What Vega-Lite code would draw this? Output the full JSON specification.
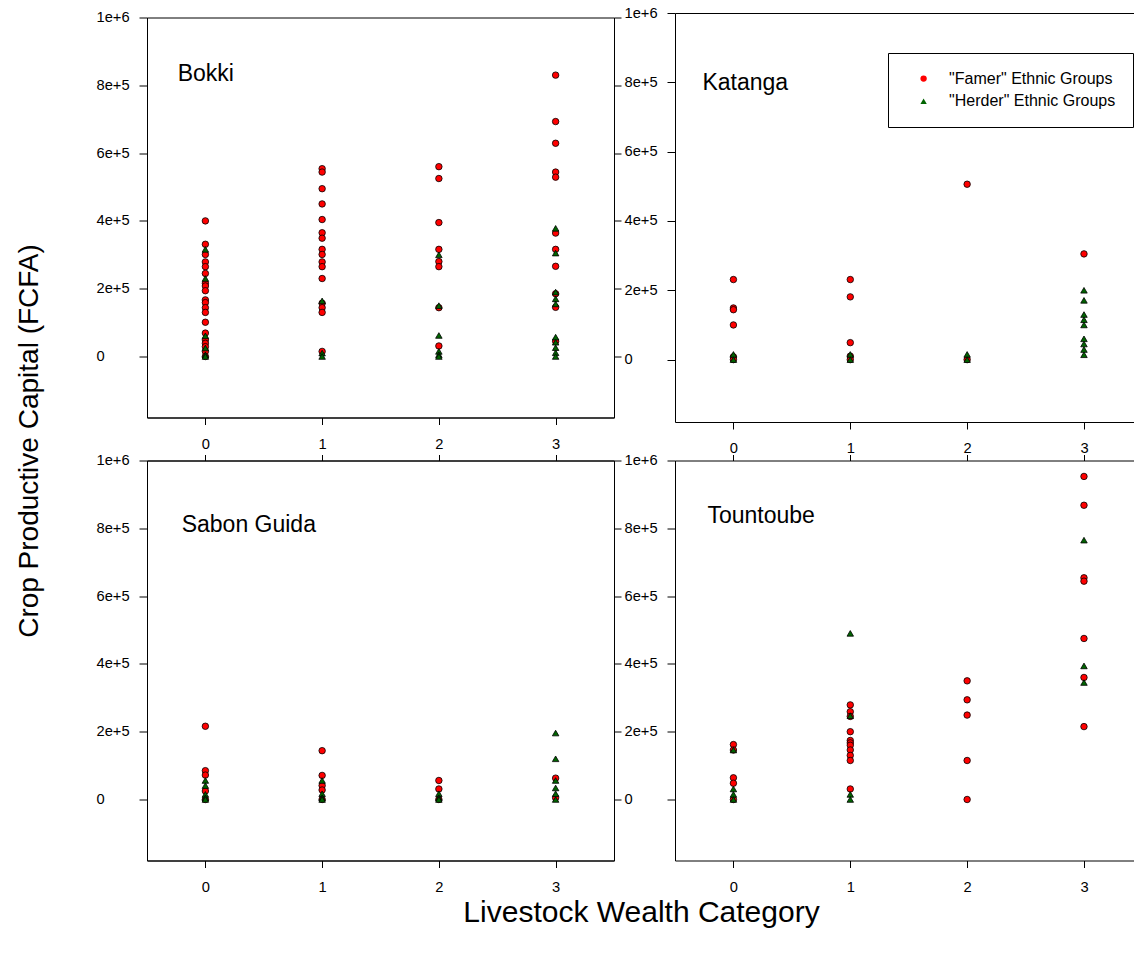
{
  "$schema": "https://vega.github.io/schema/vega-lite/v6.json",
  "padding": {"left": 14, "top": 5, "right": 0, "bottom": 5},
  "background": "white",
  "data": {"values": [
    {"village":"Bokki","category":0,"capital":400000,"group":"Famer"},
    {"village":"Bokki","category":0,"capital":331000,"group":"Famer"},
    {"village":"Bokki","category":0,"capital":301000,"group":"Famer"},
    {"village":"Bokki","category":0,"capital":279000,"group":"Famer"},
    {"village":"Bokki","category":0,"capital":265000,"group":"Famer"},
    {"village":"Bokki","category":0,"capital":245000,"group":"Famer"},
    {"village":"Bokki","category":0,"capital":216000,"group":"Famer"},
    {"village":"Bokki","category":0,"capital":208000,"group":"Famer"},
    {"village":"Bokki","category":0,"capital":194000,"group":"Famer"},
    {"village":"Bokki","category":0,"capital":167000,"group":"Famer"},
    {"village":"Bokki","category":0,"capital":159000,"group":"Famer"},
    {"village":"Bokki","category":0,"capital":144000,"group":"Famer"},
    {"village":"Bokki","category":0,"capital":130000,"group":"Famer"},
    {"village":"Bokki","category":0,"capital":101000,"group":"Famer"},
    {"village":"Bokki","category":0,"capital":69000,"group":"Famer"},
    {"village":"Bokki","category":0,"capital":49000,"group":"Famer"},
    {"village":"Bokki","category":0,"capital":39000,"group":"Famer"},
    {"village":"Bokki","category":0,"capital":29000,"group":"Famer"},
    {"village":"Bokki","category":0,"capital":15000,"group":"Famer"},
    {"village":"Bokki","category":0,"capital":0,"group":"Famer"},
    {"village":"Bokki","category":1,"capital":554000,"group":"Famer"},
    {"village":"Bokki","category":1,"capital":544000,"group":"Famer"},
    {"village":"Bokki","category":1,"capital":495000,"group":"Famer"},
    {"village":"Bokki","category":1,"capital":450000,"group":"Famer"},
    {"village":"Bokki","category":1,"capital":404000,"group":"Famer"},
    {"village":"Bokki","category":1,"capital":365000,"group":"Famer"},
    {"village":"Bokki","category":1,"capital":349000,"group":"Famer"},
    {"village":"Bokki","category":1,"capital":316000,"group":"Famer"},
    {"village":"Bokki","category":1,"capital":301000,"group":"Famer"},
    {"village":"Bokki","category":1,"capital":279000,"group":"Famer"},
    {"village":"Bokki","category":1,"capital":265000,"group":"Famer"},
    {"village":"Bokki","category":1,"capital":230000,"group":"Famer"},
    {"village":"Bokki","category":1,"capital":157000,"group":"Famer"},
    {"village":"Bokki","category":1,"capital":144000,"group":"Famer"},
    {"village":"Bokki","category":1,"capital":130000,"group":"Famer"},
    {"village":"Bokki","category":1,"capital":15000,"group":"Famer"},
    {"village":"Bokki","category":2,"capital":560000,"group":"Famer"},
    {"village":"Bokki","category":2,"capital":525000,"group":"Famer"},
    {"village":"Bokki","category":2,"capital":395000,"group":"Famer"},
    {"village":"Bokki","category":2,"capital":316000,"group":"Famer"},
    {"village":"Bokki","category":2,"capital":280000,"group":"Famer"},
    {"village":"Bokki","category":2,"capital":265000,"group":"Famer"},
    {"village":"Bokki","category":2,"capital":144000,"group":"Famer"},
    {"village":"Bokki","category":2,"capital":31000,"group":"Famer"},
    {"village":"Bokki","category":3,"capital":830000,"group":"Famer"},
    {"village":"Bokki","category":3,"capital":693000,"group":"Famer"},
    {"village":"Bokki","category":3,"capital":629000,"group":"Famer"},
    {"village":"Bokki","category":3,"capital":544000,"group":"Famer"},
    {"village":"Bokki","category":3,"capital":529000,"group":"Famer"},
    {"village":"Bokki","category":3,"capital":364000,"group":"Famer"},
    {"village":"Bokki","category":3,"capital":316000,"group":"Famer"},
    {"village":"Bokki","category":3,"capital":266000,"group":"Famer"},
    {"village":"Bokki","category":3,"capital":185000,"group":"Famer"},
    {"village":"Bokki","category":3,"capital":145000,"group":"Famer"},
    {"village":"Bokki","category":3,"capital":45000,"group":"Famer"},
    {"village":"Katanga","category":0,"capital":231000,"group":"Famer"},
    {"village":"Katanga","category":0,"capital":149000,"group":"Famer"},
    {"village":"Katanga","category":0,"capital":144000,"group":"Famer"},
    {"village":"Katanga","category":0,"capital":100000,"group":"Famer"},
    {"village":"Katanga","category":0,"capital":8000,"group":"Famer"},
    {"village":"Katanga","category":0,"capital":0,"group":"Famer"},
    {"village":"Katanga","category":1,"capital":231000,"group":"Famer"},
    {"village":"Katanga","category":1,"capital":181000,"group":"Famer"},
    {"village":"Katanga","category":1,"capital":49000,"group":"Famer"},
    {"village":"Katanga","category":1,"capital":10000,"group":"Famer"},
    {"village":"Katanga","category":1,"capital":0,"group":"Famer"},
    {"village":"Katanga","category":2,"capital":506000,"group":"Famer"},
    {"village":"Katanga","category":2,"capital":0,"group":"Famer"},
    {"village":"Katanga","category":3,"capital":305000,"group":"Famer"},
    {"village":"Sabon Guida","category":0,"capital":216000,"group":"Famer"},
    {"village":"Sabon Guida","category":0,"capital":85000,"group":"Famer"},
    {"village":"Sabon Guida","category":0,"capital":72000,"group":"Famer"},
    {"village":"Sabon Guida","category":0,"capital":25000,"group":"Famer"},
    {"village":"Sabon Guida","category":0,"capital":0,"group":"Famer"},
    {"village":"Sabon Guida","category":1,"capital":144000,"group":"Famer"},
    {"village":"Sabon Guida","category":1,"capital":71000,"group":"Famer"},
    {"village":"Sabon Guida","category":1,"capital":41000,"group":"Famer"},
    {"village":"Sabon Guida","category":1,"capital":28000,"group":"Famer"},
    {"village":"Sabon Guida","category":1,"capital":0,"group":"Famer"},
    {"village":"Sabon Guida","category":2,"capital":56000,"group":"Famer"},
    {"village":"Sabon Guida","category":2,"capital":31000,"group":"Famer"},
    {"village":"Sabon Guida","category":2,"capital":0,"group":"Famer"},
    {"village":"Sabon Guida","category":3,"capital":63000,"group":"Famer"},
    {"village":"Sabon Guida","category":3,"capital":5000,"group":"Famer"},
    {"village":"Tountoube","category":0,"capital":162000,"group":"Famer"},
    {"village":"Tountoube","category":0,"capital":146000,"group":"Famer"},
    {"village":"Tountoube","category":0,"capital":64000,"group":"Famer"},
    {"village":"Tountoube","category":0,"capital":48000,"group":"Famer"},
    {"village":"Tountoube","category":0,"capital":0,"group":"Famer"},
    {"village":"Tountoube","category":1,"capital":279000,"group":"Famer"},
    {"village":"Tountoube","category":1,"capital":259000,"group":"Famer"},
    {"village":"Tountoube","category":1,"capital":245000,"group":"Famer"},
    {"village":"Tountoube","category":1,"capital":200000,"group":"Famer"},
    {"village":"Tountoube","category":1,"capital":174000,"group":"Famer"},
    {"village":"Tountoube","category":1,"capital":167000,"group":"Famer"},
    {"village":"Tountoube","category":1,"capital":160000,"group":"Famer"},
    {"village":"Tountoube","category":1,"capital":146000,"group":"Famer"},
    {"village":"Tountoube","category":1,"capital":130000,"group":"Famer"},
    {"village":"Tountoube","category":1,"capital":115000,"group":"Famer"},
    {"village":"Tountoube","category":1,"capital":31000,"group":"Famer"},
    {"village":"Tountoube","category":2,"capital":350000,"group":"Famer"},
    {"village":"Tountoube","category":2,"capital":294000,"group":"Famer"},
    {"village":"Tountoube","category":2,"capital":249000,"group":"Famer"},
    {"village":"Tountoube","category":2,"capital":115000,"group":"Famer"},
    {"village":"Tountoube","category":2,"capital":0,"group":"Famer"},
    {"village":"Tountoube","category":3,"capital":953000,"group":"Famer"},
    {"village":"Tountoube","category":3,"capital":868000,"group":"Famer"},
    {"village":"Tountoube","category":3,"capital":654000,"group":"Famer"},
    {"village":"Tountoube","category":3,"capital":644000,"group":"Famer"},
    {"village":"Tountoube","category":3,"capital":475000,"group":"Famer"},
    {"village":"Tountoube","category":3,"capital":360000,"group":"Famer"},
    {"village":"Tountoube","category":3,"capital":215000,"group":"Famer"},
    {"village":"Bokki","category":0,"capital":316000,"group":"Herder"},
    {"village":"Bokki","category":0,"capital":230000,"group":"Herder"},
    {"village":"Bokki","category":0,"capital":61000,"group":"Herder"},
    {"village":"Bokki","category":0,"capital":25000,"group":"Herder"},
    {"village":"Bokki","category":0,"capital":5000,"group":"Herder"},
    {"village":"Bokki","category":0,"capital":0,"group":"Herder"},
    {"village":"Bokki","category":1,"capital":164000,"group":"Herder"},
    {"village":"Bokki","category":1,"capital":10000,"group":"Herder"},
    {"village":"Bokki","category":1,"capital":0,"group":"Herder"},
    {"village":"Bokki","category":2,"capital":300000,"group":"Herder"},
    {"village":"Bokki","category":2,"capital":150000,"group":"Herder"},
    {"village":"Bokki","category":2,"capital":62000,"group":"Herder"},
    {"village":"Bokki","category":2,"capital":15000,"group":"Herder"},
    {"village":"Bokki","category":2,"capital":5000,"group":"Herder"},
    {"village":"Bokki","category":2,"capital":0,"group":"Herder"},
    {"village":"Bokki","category":3,"capital":378000,"group":"Herder"},
    {"village":"Bokki","category":3,"capital":305000,"group":"Herder"},
    {"village":"Bokki","category":3,"capital":190000,"group":"Herder"},
    {"village":"Bokki","category":3,"capital":170000,"group":"Herder"},
    {"village":"Bokki","category":3,"capital":155000,"group":"Herder"},
    {"village":"Bokki","category":3,"capital":57000,"group":"Herder"},
    {"village":"Bokki","category":3,"capital":42000,"group":"Herder"},
    {"village":"Bokki","category":3,"capital":26000,"group":"Herder"},
    {"village":"Bokki","category":3,"capital":11000,"group":"Herder"},
    {"village":"Bokki","category":3,"capital":0,"group":"Herder"},
    {"village":"Katanga","category":0,"capital":15000,"group":"Herder"},
    {"village":"Katanga","category":0,"capital":0,"group":"Herder"},
    {"village":"Katanga","category":1,"capital":15000,"group":"Herder"},
    {"village":"Katanga","category":1,"capital":0,"group":"Herder"},
    {"village":"Katanga","category":2,"capital":15000,"group":"Herder"},
    {"village":"Katanga","category":2,"capital":0,"group":"Herder"},
    {"village":"Katanga","category":3,"capital":200000,"group":"Herder"},
    {"village":"Katanga","category":3,"capital":171000,"group":"Herder"},
    {"village":"Katanga","category":3,"capital":130000,"group":"Herder"},
    {"village":"Katanga","category":3,"capital":115000,"group":"Herder"},
    {"village":"Katanga","category":3,"capital":100000,"group":"Herder"},
    {"village":"Katanga","category":3,"capital":60000,"group":"Herder"},
    {"village":"Katanga","category":3,"capital":45000,"group":"Herder"},
    {"village":"Katanga","category":3,"capital":29000,"group":"Herder"},
    {"village":"Katanga","category":3,"capital":14000,"group":"Herder"},
    {"village":"Sabon Guida","category":0,"capital":56000,"group":"Herder"},
    {"village":"Sabon Guida","category":0,"capital":41000,"group":"Herder"},
    {"village":"Sabon Guida","category":0,"capital":15000,"group":"Herder"},
    {"village":"Sabon Guida","category":0,"capital":5000,"group":"Herder"},
    {"village":"Sabon Guida","category":0,"capital":0,"group":"Herder"},
    {"village":"Sabon Guida","category":1,"capital":56000,"group":"Herder"},
    {"village":"Sabon Guida","category":1,"capital":17000,"group":"Herder"},
    {"village":"Sabon Guida","category":1,"capital":5000,"group":"Herder"},
    {"village":"Sabon Guida","category":1,"capital":0,"group":"Herder"},
    {"village":"Sabon Guida","category":2,"capital":17000,"group":"Herder"},
    {"village":"Sabon Guida","category":2,"capital":5000,"group":"Herder"},
    {"village":"Sabon Guida","category":2,"capital":0,"group":"Herder"},
    {"village":"Sabon Guida","category":3,"capital":196000,"group":"Herder"},
    {"village":"Sabon Guida","category":3,"capital":120000,"group":"Herder"},
    {"village":"Sabon Guida","category":3,"capital":56000,"group":"Herder"},
    {"village":"Sabon Guida","category":3,"capital":34000,"group":"Herder"},
    {"village":"Sabon Guida","category":3,"capital":17000,"group":"Herder"},
    {"village":"Sabon Guida","category":3,"capital":0,"group":"Herder"},
    {"village":"Tountoube","category":0,"capital":146000,"group":"Herder"},
    {"village":"Tountoube","category":0,"capital":31000,"group":"Herder"},
    {"village":"Tountoube","category":0,"capital":15000,"group":"Herder"},
    {"village":"Tountoube","category":0,"capital":0,"group":"Herder"},
    {"village":"Tountoube","category":1,"capital":490000,"group":"Herder"},
    {"village":"Tountoube","category":1,"capital":247000,"group":"Herder"},
    {"village":"Tountoube","category":1,"capital":15000,"group":"Herder"},
    {"village":"Tountoube","category":1,"capital":0,"group":"Herder"},
    {"village":"Tountoube","category":3,"capital":765000,"group":"Herder"},
    {"village":"Tountoube","category":3,"capital":394000,"group":"Herder"},
    {"village":"Tountoube","category":3,"capital":345000,"group":"Herder"}
  ]},
  "columns": 2,
  "bounds": "flush",
  "align": "each",
  "center": {"row": true, "column": false},
  "spacing": {"row": 38.5, "column": 61},
  "resolve": {"scale": {"fill": "shared", "shape": "shared"}},
  "concat": [
    {
      "width": 467, "height": 400,
      "layer": [
        {"layer": [
          {
            "transform": [{"filter": "datum.village == 'Bokki'"}],
            "mark": {"type": "point", "filled": true, "opacity": 1, "stroke": "black", "strokeWidth": 0.8, "size": 42},
            "encoding": {
              "x": {"field": "category", "type": "quantitative", "scale": {"domain": [-0.5, 3.5], "nice": false, "zero": false},
                    "axis": {"values": [0,1,2,3], "format": "d", "tickSize": 7, "labelPadding": 12, "title": null}},
              "y": {"field": "capital", "type": "quantitative", "scale": {"domain": [-180000, 1000000], "nice": false, "zero": false},
                    "axis": {"values": [0,200000,400000,600000,800000,1000000], "labelExpr": "datum.value == 0 ? '0' : format(datum.value, '.0e')",
                             "tickSize": 8, "labelAlign": "left", "labelPadding": 43,
                             "title": "Crop Productive Capital (FCFA)", "titleX": -118, "titleY": 423, "titleAngle": 270,
                             "titleAlign": "center", "titleBaseline": "middle", "titleFontSize": 28}},
              "fill": {"field": "group", "type": "nominal", "scale": {"domain": ["Famer", "Herder"], "range": ["#ff0000", "#006400"]},
                       "legend": {"orient": "none", "legendX": 741, "legendY": 40, "labelLimit": 400, "labelExpr": "'\"' + datum.label + '\" Ethnic Groups'"}},
              "shape": {"field": "group", "type": "nominal", "scale": {"domain": ["Famer", "Herder"], "range": ["circle", "triangle-up"]},
                        "legend": {"orient": "none", "legendX": 741, "legendY": 40, "labelLimit": 400, "labelExpr": "'\"' + datum.label + '\" Ethnic Groups'"}}
            }
          },
          {
            "data": {"values": [{"name": "Bokki"}]},
            "mark": {"type": "text", "align": "left", "baseline": "alphabetic", "fontSize": 23, "font": "Liberation Sans", "color": "black"},
            "encoding": {"x": {"datum": -0.237}, "y": {"datum": 812000}, "text": {"field": "name"}}
          }
        ]},
        {
          "mark": {"type": "point", "opacity": 0},
          "encoding": {
            "y": {"field": "capital", "type": "quantitative", "scale": {"domain": [-180000, 1000000], "nice": false, "zero": false},
                  "axis": {"orient": "right", "values": [0,200000,400000,600000,800000,1000000], "labels": false, "tickSize": 7, "title": null}}
          }
        }
      ],
      "resolve": {"scale": {"y": "independent"}}
    },
    {
      "width": 459, "height": 409,
      "view": {"stroke": null},
      "layer": [
        {"layer": [
          {
            "transform": [{"filter": "datum.village == 'Katanga'"}],
            "mark": {"type": "point", "filled": true, "opacity": 1, "stroke": "black", "strokeWidth": 0.8, "size": 42},
            "encoding": {
              "x": {"field": "category", "type": "quantitative", "scale": {"domain": [-0.5, 3.428], "nice": false, "zero": false},
                    "axis": {"values": [0,1,2,3], "format": "d", "tickSize": 7, "labelPadding": 11, "title": null}},
              "y": {"field": "capital", "type": "quantitative", "scale": {"domain": [-180000, 1000000], "nice": false, "zero": false},
                    "axis": {"values": [0,200000,400000,600000,800000,1000000], "labelExpr": "datum.value == 0 ? '0' : format(datum.value, '.0e')",
                             "tickSize": 8, "labelAlign": "left", "labelPadding": 43, "title": null}},
              "fill": {"field": "group", "type": "nominal", "scale": {"domain": ["Famer", "Herder"], "range": ["#ff0000", "#006400"]},
                       "legend": {"orient": "none", "legendX": 741, "legendY": 40, "labelLimit": 400, "labelExpr": "'\"' + datum.label + '\" Ethnic Groups'"}},
              "shape": {"field": "group", "type": "nominal", "scale": {"domain": ["Famer", "Herder"], "range": ["circle", "triangle-up"]},
                        "legend": {"orient": "none", "legendX": 741, "legendY": 40, "labelLimit": 400, "labelExpr": "'\"' + datum.label + '\" Ethnic Groups'"}}
            }
          },
          {
            "data": {"values": [{"name": "Katanga"}]},
            "mark": {"type": "text", "align": "left", "baseline": "alphabetic", "fontSize": 23, "font": "Liberation Sans", "color": "black"},
            "encoding": {"x": {"datum": -0.265}, "y": {"datum": 777000}, "text": {"field": "name"}}
          }
        ]},
        {
          "mark": {"type": "point", "opacity": 0},
          "encoding": {
            "x": {"field": "category", "type": "quantitative", "scale": {"domain": [-0.5, 3.428], "nice": false, "zero": false},
                  "axis": {"orient": "top", "values": [], "labels": false, "ticks": false, "title": null}}
          }
        }
      ],
      "resolve": {"scale": {"x": "independent"}}
    },
    {
      "width": 467, "height": 400,
      "layer": [
        {"layer": [
          {
            "transform": [{"filter": "datum.village == 'Sabon Guida'"}],
            "mark": {"type": "point", "filled": true, "opacity": 1, "stroke": "black", "strokeWidth": 0.8, "size": 42},
            "encoding": {
              "x": {"field": "category", "type": "quantitative", "scale": {"domain": [-0.5, 3.5], "nice": false, "zero": false},
                    "axis": {"values": [0,1,2,3], "format": "d", "tickSize": 7, "labelPadding": 12,
                             "title": "Livestock Wealth Category", "titleX": 494, "titleY": 52, "titleAlign": "center", "titleBaseline": "middle", "titleFontSize": 30}},
              "y": {"field": "capital", "type": "quantitative", "scale": {"domain": [-180000, 1000000], "nice": false, "zero": false},
                    "axis": {"values": [0,200000,400000,600000,800000,1000000], "labelExpr": "datum.value == 0 ? '0' : format(datum.value, '.0e')",
                             "tickSize": 8, "labelAlign": "left", "labelPadding": 43, "title": null}},
              "fill": {"field": "group", "type": "nominal", "scale": {"domain": ["Famer", "Herder"], "range": ["#ff0000", "#006400"]},
                       "legend": {"orient": "none", "legendX": 741, "legendY": 40, "labelLimit": 400, "labelExpr": "'\"' + datum.label + '\" Ethnic Groups'"}},
              "shape": {"field": "group", "type": "nominal", "scale": {"domain": ["Famer", "Herder"], "range": ["circle", "triangle-up"]},
                        "legend": {"orient": "none", "legendX": 741, "legendY": 40, "labelLimit": 400, "labelExpr": "'\"' + datum.label + '\" Ethnic Groups'"}}
            }
          },
          {
            "data": {"values": [{"name": "Sabon Guida"}]},
            "mark": {"type": "text", "align": "left", "baseline": "alphabetic", "fontSize": 23, "font": "Liberation Sans", "color": "black"},
            "encoding": {"x": {"datum": -0.203}, "y": {"datum": 788000}, "text": {"field": "name"}}
          }
        ]},
        {
          "mark": {"type": "point", "opacity": 0},
          "encoding": {
            "x": {"field": "category", "type": "quantitative", "scale": {"domain": [-0.5, 3.5], "nice": false, "zero": false},
                  "axis": {"orient": "top", "values": [0,1,2,3], "labels": false, "tickSize": 6, "title": null}},
            "y": {"field": "capital", "type": "quantitative", "scale": {"domain": [-180000, 1000000], "nice": false, "zero": false},
                  "axis": {"orient": "right", "values": [0,200000,400000,600000,800000,1000000], "labels": false, "tickSize": 7, "title": null}}
          }
        }
      ],
      "resolve": {"scale": {"x": "independent", "y": "independent"}}
    },
    {
      "width": 459, "height": 400,
      "view": {"stroke": null},
      "layer": [
        {"layer": [
          {
            "transform": [{"filter": "datum.village == 'Tountoube'"}],
            "mark": {"type": "point", "filled": true, "opacity": 1, "stroke": "black", "strokeWidth": 0.8, "size": 42},
            "encoding": {
              "x": {"field": "category", "type": "quantitative", "scale": {"domain": [-0.5, 3.428], "nice": false, "zero": false},
                    "axis": {"values": [0,1,2,3], "format": "d", "tickSize": 7, "labelPadding": 12, "title": null}},
              "y": {"field": "capital", "type": "quantitative", "scale": {"domain": [-180000, 1000000], "nice": false, "zero": false},
                    "axis": {"values": [0,200000,400000,600000,800000,1000000], "labelExpr": "datum.value == 0 ? '0' : format(datum.value, '.0e')",
                             "tickSize": 8, "labelAlign": "left", "labelPadding": 43, "title": null}},
              "fill": {"field": "group", "type": "nominal", "scale": {"domain": ["Famer", "Herder"], "range": ["#ff0000", "#006400"]},
                       "legend": {"orient": "none", "legendX": 741, "legendY": 40, "labelLimit": 400, "labelExpr": "'\"' + datum.label + '\" Ethnic Groups'"}},
              "shape": {"field": "group", "type": "nominal", "scale": {"domain": ["Famer", "Herder"], "range": ["circle", "triangle-up"]},
                        "legend": {"orient": "none", "legendX": 741, "legendY": 40, "labelLimit": 400, "labelExpr": "'\"' + datum.label + '\" Ethnic Groups'"}}
            }
          },
          {
            "data": {"values": [{"name": "Tountoube"}]},
            "mark": {"type": "text", "align": "left", "baseline": "alphabetic", "fontSize": 23, "font": "Liberation Sans", "color": "black"},
            "encoding": {"x": {"datum": -0.222}, "y": {"datum": 815000}, "text": {"field": "name"}}
          }
        ]},
        {
          "mark": {"type": "point", "opacity": 0},
          "encoding": {
            "x": {"field": "category", "type": "quantitative", "scale": {"domain": [-0.5, 3.428], "nice": false, "zero": false},
                  "axis": {"orient": "top", "values": [0,1,2,3], "labels": false, "tickSize": 6, "title": null}}
          }
        }
      ],
      "resolve": {"scale": {"x": "independent"}}
    }
  ],
  "config": {
    "font": "Liberation Sans",
    "view": {"stroke": "black", "strokeWidth": 1},
    "axis": {
      "grid": false, "domainColor": "black", "domainWidth": 1, "tickColor": "black", "tickWidth": 1,
      "labelColor": "black", "labelFont": "Liberation Sans", "labelFontSize": 14.7, "labelFlush": false, "labelOverlap": false,
      "titleColor": "black", "titleFont": "Liberation Sans", "titleFontWeight": "normal"
    },
    "legend": {
      "title": null, "strokeColor": "black", "fillColor": "white", "padding": 17.6, "cornerRadius": 0,
      "symbolOffset": 10, "labelOffset": 17.5, "rowPadding": 6.7, "labelLimit": 400,
      "labelFont": "Liberation Sans", "labelFontSize": 16, "labelColor": "black",
      "symbolSize": 40, "symbolStrokeColor": "black", "symbolStrokeWidth": 0.8
    }
  }
}
